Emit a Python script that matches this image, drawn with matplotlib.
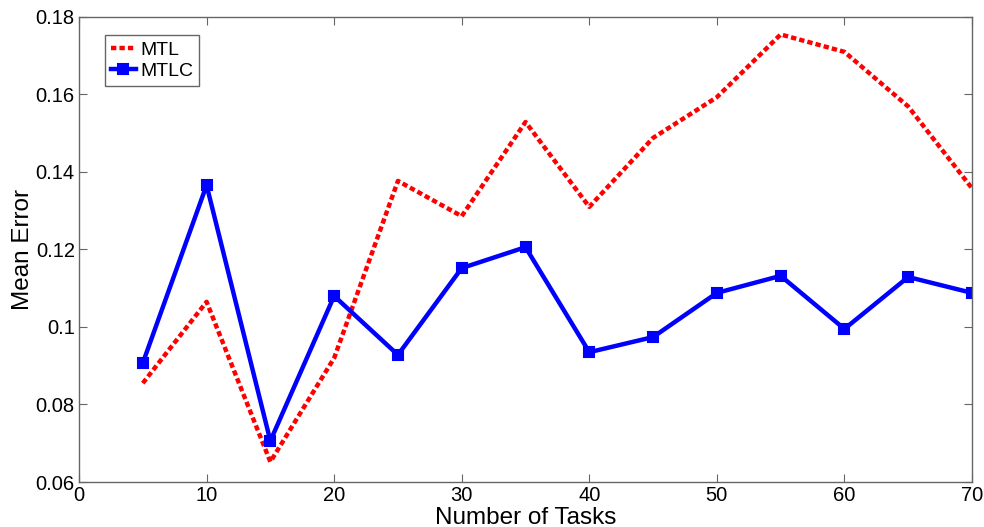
import matplotlib
matplotlib.use("Agg")
import matplotlib.pyplot as plt

tasks = [5, 10, 15, 20, 25, 30, 35, 40, 45, 50, 55, 60, 65, 70]
mtl = [0.0855, 0.1065, 0.0652, 0.0920, 0.1377, 0.1286, 0.1529, 0.1310,
       0.1488, 0.1593, 0.1755, 0.1710, 0.1569, 0.1358]
mtlc = [0.0907, 0.1366, 0.0706, 0.1080, 0.0928, 0.1152, 0.1206, 0.0935,
        0.0974, 0.1088, 0.1132, 0.0995, 0.1129, 0.1088]
xticks = [0, 10, 20, 30, 40, 50, 60, 70]
yticks = [0.06, 0.08, 0.10, 0.12, 0.14, 0.16, 0.18]
yticklabels = ["0.06", "0.08", "0.1", "0.12", "0.14", "0.16", "0.18"]

plt.rcParams['font.family'] = ['Liberation Sans', 'DejaVu Sans']

fig = plt.figure(figsize=(9.84, 5.27), dpi=100)
ax = fig.add_axes([79/984, 45/527, (972-79)/984, (482-17)/527])

ax.plot(tasks, mtl, color='#ff0000', lw=3.2, linestyle=(0, (1.2, 0.7)),
        dash_capstyle='butt', label='MTL')
ax.plot(tasks, mtlc, color='#0000ff', lw=3.2, marker='s', markersize=6.5,
        markeredgewidth=1.5, label='MTLC')

ax.set_xlim(0, 70)
ax.set_ylim(0.06, 0.18)
ax.set_xticks(xticks)
ax.set_yticks(yticks)
ax.set_yticklabels(yticklabels)
ax.tick_params(direction='in', top=True, right=True, labelsize=14.5,
               length=6, color='#666666', pad=3)
for s in ax.spines.values():
    s.set_color('#666666')
    s.set_linewidth(1)

ax.set_xlabel('Number of Tasks', fontsize=17.5, labelpad=1)
ax.set_ylabel('Mean Error', fontsize=17.5, labelpad=1)

leg = ax.legend(loc='upper left', bbox_to_anchor=(0.029, 0.961), fontsize=14,
                handlelength=1.3, handletextpad=0.2, borderpad=0.3,
                labelspacing=0.2, fancybox=False, framealpha=1,
                edgecolor='#666666', borderaxespad=0)
leg.get_frame().set_linewidth(1)

fig.savefig('out.png', dpi=100)
